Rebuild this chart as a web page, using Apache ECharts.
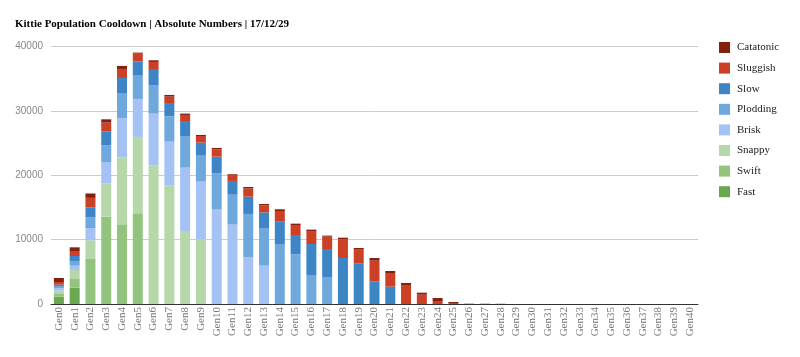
<!DOCTYPE html>
<html>
<head>
<meta charset="utf-8">
<script src="https://cdn.jsdelivr.net/npm/echarts@6/dist/echarts.min.js"></script>
<style>html,body{margin:0;padding:0;background:#fff}#c{width:800px;height:357px}</style>
</head>
<body>
<div id="c"></div>
<script>
const categories = Array.from({length: 41}, (_, i) => 'Gen' + i);
const yTicks = [0, 10000, 20000, 30000, 40000];
const fast      = [1140, 2540];
const swift     = [520, 1450, 7000, 13580, 12390, 14100];
const snappy    = [410, 1300, 2900, 5180, 10410, 11870, 21510, 18450, 11350, 10100];
const brisk     = [370, 670, 1900, 3320, 6070, 5910, 8090, 6790, 9850, 8920, 14670, 12340, 7310, 5960];
const plodding  = [360, 730, 1700, 2590, 3830, 3620, 4350, 3940, 4820, 4040, 5650, 4660, 6690, 5860, 9330, 7720, 4510, 4200];
const slow      = [210, 770, 1520, 2180, 2440, 2230, 2440, 2070, 2430, 2030, 2590, 2130, 2690, 2430, 3470, 3010, 4820, 4350, 7150, 6270, 3520, 2700];
const sluggish  = [410, 780, 1480, 1350, 1400, 1190, 1240, 990, 940, 1030, 1140, 980, 1290, 1090, 1660, 1550, 1920, 1920, 2910, 2180, 3220, 2120, 2950, 1450, 470, 155, 60, 50, 40];
const catatonic = [620, 570, 680, 510, 470, 160, 260, 260, 210, 160, 210, 100, 210, 210, 260, 210, 310, 160, 250, 260, 410, 310, 320, 310, 460, 155];

const seriesDefs = [
  ['Fast', fast, '#6aa84f'],
  ['Swift', swift, '#93c47d'],
  ['Snappy', snappy, '#b6d7a8'],
  ['Brisk', brisk, '#a4c2f4'],
  ['Plodding', plodding, '#6fa8dc'],
  ['Slow', slow, '#3d85c6'],
  ['Sluggish', sluggish, '#cc4125'],
  ['Catatonic', catatonic, '#85200c']
];
function pad(arr) { return categories.map((_, i) => i < arr.length ? arr[i] : 0); }

const chart = echarts.init(document.getElementById('c'));
chart.setOption({
  animation: false,
  title: {
    text: 'Kittie Population Cooldown | Absolute Numbers | 17/12/29',
    left: 10, top: 14,
    textStyle: {fontFamily: 'Liberation Serif', fontWeight: 'bold', fontSize: 11, color: '#000'}
  },
  legend: {
    orient: 'vertical', left: 714, top: 37,
    itemWidth: 11, itemHeight: 11, itemGap: 9.6,
    icon: 'rect',
    data: seriesDefs.map(d => d[0]).reverse(),
    textStyle: {fontFamily: 'Liberation Serif', fontSize: 11, color: '#222', padding: [0,0,0,2]}
  },
  grid: {left: 51, right: 102, top: 46.7, bottom: 53},
  xAxis: {
    type: 'category', data: categories,
    axisLine: {lineStyle: {color: '#333'}},
    axisTick: {show: false},
    axisLabel: {interval: 0, rotate: 90, margin: 3, fontFamily: 'Liberation Serif', fontSize: 11, color: '#777'}
  },
  yAxis: {
    type: 'value', min: yTicks[0], max: yTicks[yTicks.length - 1], interval: 10000,
    axisLine: {show: false}, axisTick: {show: false},
    axisLabel: {fontFamily: 'Liberation Sans', fontSize: 10, color: '#888', margin: 8, formatter: v => String(v)},
    splitLine: {lineStyle: {color: '#ccc'}}
  },
  series: seriesDefs.map(([name, arr, color]) => ({
    name, type: 'bar', stack: 'total', data: pad(arr), barWidth: 10,
    itemStyle: {color}
  }))
});
</script>
</body>
</html>
